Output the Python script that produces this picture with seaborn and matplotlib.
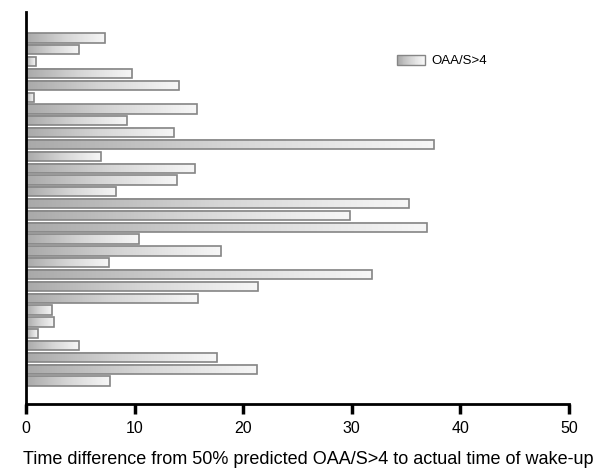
import numpy as np
import pandas as pd
import matplotlib
matplotlib.use("Agg")
import matplotlib.pyplot as plt
import seaborn as sns
from matplotlib.colors import LinearSegmentedColormap
from matplotlib.patches import Patch, Rectangle
from matplotlib.legend_handler import HandlerBase

# one bar per subject, top to bottom
subjects = [str(i) for i in range(1, 31)]
time_diff = [7.3, 4.9, 0.9, 9.8, 14.1, 0.7, 15.7, 9.3, 13.6, 37.6,
             6.9, 15.6, 13.9, 8.3, 35.3, 29.8, 36.9, 10.4, 18.0, 7.6,
             31.9, 21.4, 15.8, 2.4, 2.6, 1.1, 4.9, 17.6, 21.3, 7.7]
x_ticks = [0, 10, 20, 30, 40, 50]
series_name = "OAA/S>4"

sns.set_theme(style="white")
plt.rcParams["font.family"] = ["Liberation Sans", "DejaVu Sans"]
plt.rcParams["text.color"] = "black"
plt.rcParams["axes.labelcolor"] = "black"
plt.rcParams["xtick.color"] = "black"

grad_cmap = LinearSegmentedColormap.from_list("bar_grad", ["#a9a9a9", "#d6d6d6", "#f7f7f7"])
edge_col = "#858585"


class HandlerGradient(HandlerBase):
    # legend key drawn as thin stripes going dark -> light
    def create_artists(self, legend, orig_handle, xdescent, ydescent,
                       width, height, fontsize, trans):
        arts = []
        n = 30
        for i in range(n):
            r = Rectangle((-xdescent + width * i / n, -ydescent), width / n + 0.3, height,
                          facecolor=grad_cmap(i / (n - 1)), edgecolor="none", transform=trans)
            arts.append(r)
        arts.append(Rectangle((-xdescent, -ydescent), width, height, facecolor="none",
                              edgecolor=edge_col, linewidth=1, transform=trans))
        return arts


df = pd.DataFrame({"subject": subjects, "time_diff": time_diff})

fig = plt.figure(figsize=(6.13, 4.69), dpi=100)
ax = fig.add_axes([26 / 613, 1 - 404 / 469, (569 - 26) / 613, (404 - 12) / 469])

sns.barplot(data=df, x="time_diff", y="subject", orient="h", width=0.78,
            fill=False, edgecolor=edge_col, linewidth=1.2, ax=ax)

# gradient fill inside each bar
grad = np.linspace(0, 1, 256).reshape(1, -1)
for p in ax.patches:
    x0, y0 = p.get_x(), p.get_y()
    w, h = p.get_width(), p.get_height()
    ax.imshow(grad, cmap=grad_cmap, aspect="auto", interpolation="bilinear",
              extent=[x0, x0 + w, y0 + h, y0], zorder=p.get_zorder() - 0.1)

ax.set_xlim(0, 50)
ax.set_ylim(30.94, -2.2)
ax.set_xticks(x_ticks)
ax.set_yticks([])
ax.set_ylabel("")
ax.set_xlabel("Time difference from 50% predicted OAA/S>4 to actual time of wake-up",
              fontsize=13, labelpad=11)
ax.xaxis.label.set_x(0.52)
ax.tick_params(axis="x", direction="out", length=7, width=2.5, color="black",
               labelsize=11.5, labelcolor="black", pad=5, bottom=True)
for s in ["top", "right"]:
    ax.spines[s].set_visible(False)
for s in ["left", "bottom"]:
    ax.spines[s].set_linewidth(2)
    ax.spines[s].set_color("black")

ax.legend(handles=[Patch(label=series_name)], handler_map={Patch: HandlerGradient()},
          loc="upper left", bbox_to_anchor=(397 / 613, 1 - 55 / 469),
          bbox_transform=fig.transFigure, frameon=False, fontsize=9.5,
          borderpad=0, borderaxespad=0, handlelength=2.1, handleheight=0.75,
          handletextpad=0.5, labelcolor="black")

fig.savefig("out.png", dpi=100)
